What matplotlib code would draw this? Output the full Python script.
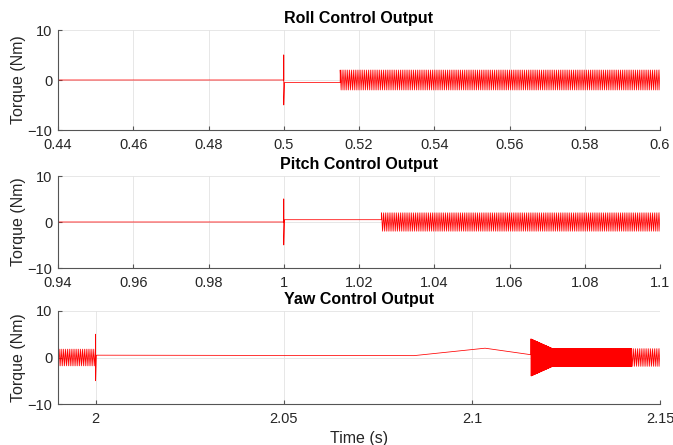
import numpy as np
import matplotlib
matplotlib.use("Agg")
from matplotlib import pyplot as plt

plt.rcParams['font.family'] = ['Liberation Sans', 'DejaVu Sans']

# breakpoints (time, torque), before/between oscillations
roll_t = [0.44, 0.5, 0.5, 0.5, 0.5002, 0.515]
roll_v = [0.0, 0.0, 5.0, -5.0, -0.5, -0.5]
pitch_t = [0.94, 1.0, 1.0, 1.0, 1.0002, 1.026]
pitch_v = [0.0, 0.0, 5.0, -5.0, 0.5, 0.5]
yaw_t = [2.0, 2.0, 2.0, 2.0002, 2.0846, 2.1035, 2.1157]
yaw_v = [0.0, 5.0, -5.0, 0.5, 0.4, 2.0, 0.6]

# oscillating stretches: (start, end, amplitude at start, amplitude at end, period)
roll_osc = [(0.515, 0.6, 2.0, 2.0, 0.0005)]
pitch_osc = [(1.026, 1.1, 2.0, 2.0, 0.0005)]
yaw_osc_before = [(1.99, 2.0, 1.8, 1.8, 0.0005)]
yaw_osc_after = [(2.1157, 2.1215, 4.0, 1.9, 0.00012),
                 (2.1215, 2.1425, 1.9, 1.9, 0.00012),
                 (2.1425, 2.15, 1.9, 1.9, 0.0005)]


def zigzag(segments):
    ts, vs = [], []
    for t0, t1, a0, a1, per in segments:
        n = int(round((t1 - t0) / (per / 2)))
        t = np.linspace(t0, t1, n + 1)
        amp = np.linspace(a0, a1, n + 1)
        sign = np.where(np.arange(n + 1) % 2 == 0, 1.0, -1.0)
        ts.append(t)
        vs.append(amp * sign)
    return np.concatenate(ts), np.concatenate(vs)


def style(ax, xlim, xticks, xticklabels):
    ax.set_xlim(*xlim)
    ax.set_ylim(-10, 10)
    ax.set_xticks(xticks)
    ax.set_xticklabels(xticklabels)
    ax.set_yticks([-10, 0, 10])
    ax.grid(True, color='#e3e3e3', linewidth=0.6)
    ax.set_axisbelow(True)
    for s in ['top', 'right']:
        ax.spines[s].set_visible(False)
    for s in ['left', 'bottom']:
        ax.spines[s].set_color('#555555')
        ax.spines[s].set_linewidth(0.8)
    ax.tick_params(direction='in', length=3, color='#555555',
                   labelcolor='#262626', labelsize=10.5)
    ax.tick_params(axis='x', pad=6)
    ax.tick_params(axis='y', pad=4)
    ax.set_ylabel('Torque (Nm)', color='#262626', fontsize=11.5, labelpad=1)


fig = plt.figure(figsize=(6.73, 4.45), dpi=100)
l, w = 58 / 673, 602 / 673
ax1 = fig.add_axes([l, 1 - 130 / 445, w, 100 / 445])
ax2 = fig.add_axes([l, 1 - 268 / 445, w, 92 / 445])
ax3 = fig.add_axes([l, 1 - 404 / 445, w, 93 / 445])

lw = 0.55
col = '#ff0000'

# roll
ot, ov = zigzag(roll_osc)
ax1.plot(np.concatenate([roll_t, ot]), np.concatenate([roll_v, ov]), color=col, lw=lw)
style(ax1, (0.44, 0.6), [0.44, 0.46, 0.48, 0.5, 0.52, 0.54, 0.56, 0.58, 0.6],
      ['0.44', '0.46', '0.48', '0.5', '0.52', '0.54', '0.56', '0.58', '0.6'])
ax1.set_title('Roll Control Output', fontweight='bold', fontsize=11.5, pad=5)

# pitch
ot, ov = zigzag(pitch_osc)
ax2.plot(np.concatenate([pitch_t, ot]), np.concatenate([pitch_v, ov]), color=col, lw=lw)
style(ax2, (0.94, 1.1), [0.94, 0.96, 0.98, 1.0, 1.02, 1.04, 1.06, 1.08, 1.1],
      ['0.94', '0.96', '0.98', '1', '1.02', '1.04', '1.06', '1.08', '1.1'])
ax2.set_title('Pitch Control Output', fontweight='bold', fontsize=11.5, pad=5)

# yaw
bt, bv = zigzag(yaw_osc_before)
at, av = zigzag(yaw_osc_after)
ax3.plot(np.concatenate([bt, yaw_t, at]), np.concatenate([bv, yaw_v, av]), color=col, lw=lw)
style(ax3, (1.99, 2.15), [2.0, 2.05, 2.1, 2.15], ['2', '2.05', '2.1', '2.15'])
ax3.set_title('Yaw Control Output', fontweight='bold', fontsize=11.5, pad=5)
ax3.set_xlabel('Time (s)', color='#262626', fontsize=11.5, labelpad=3)

fig.savefig('out.png', dpi=100)
